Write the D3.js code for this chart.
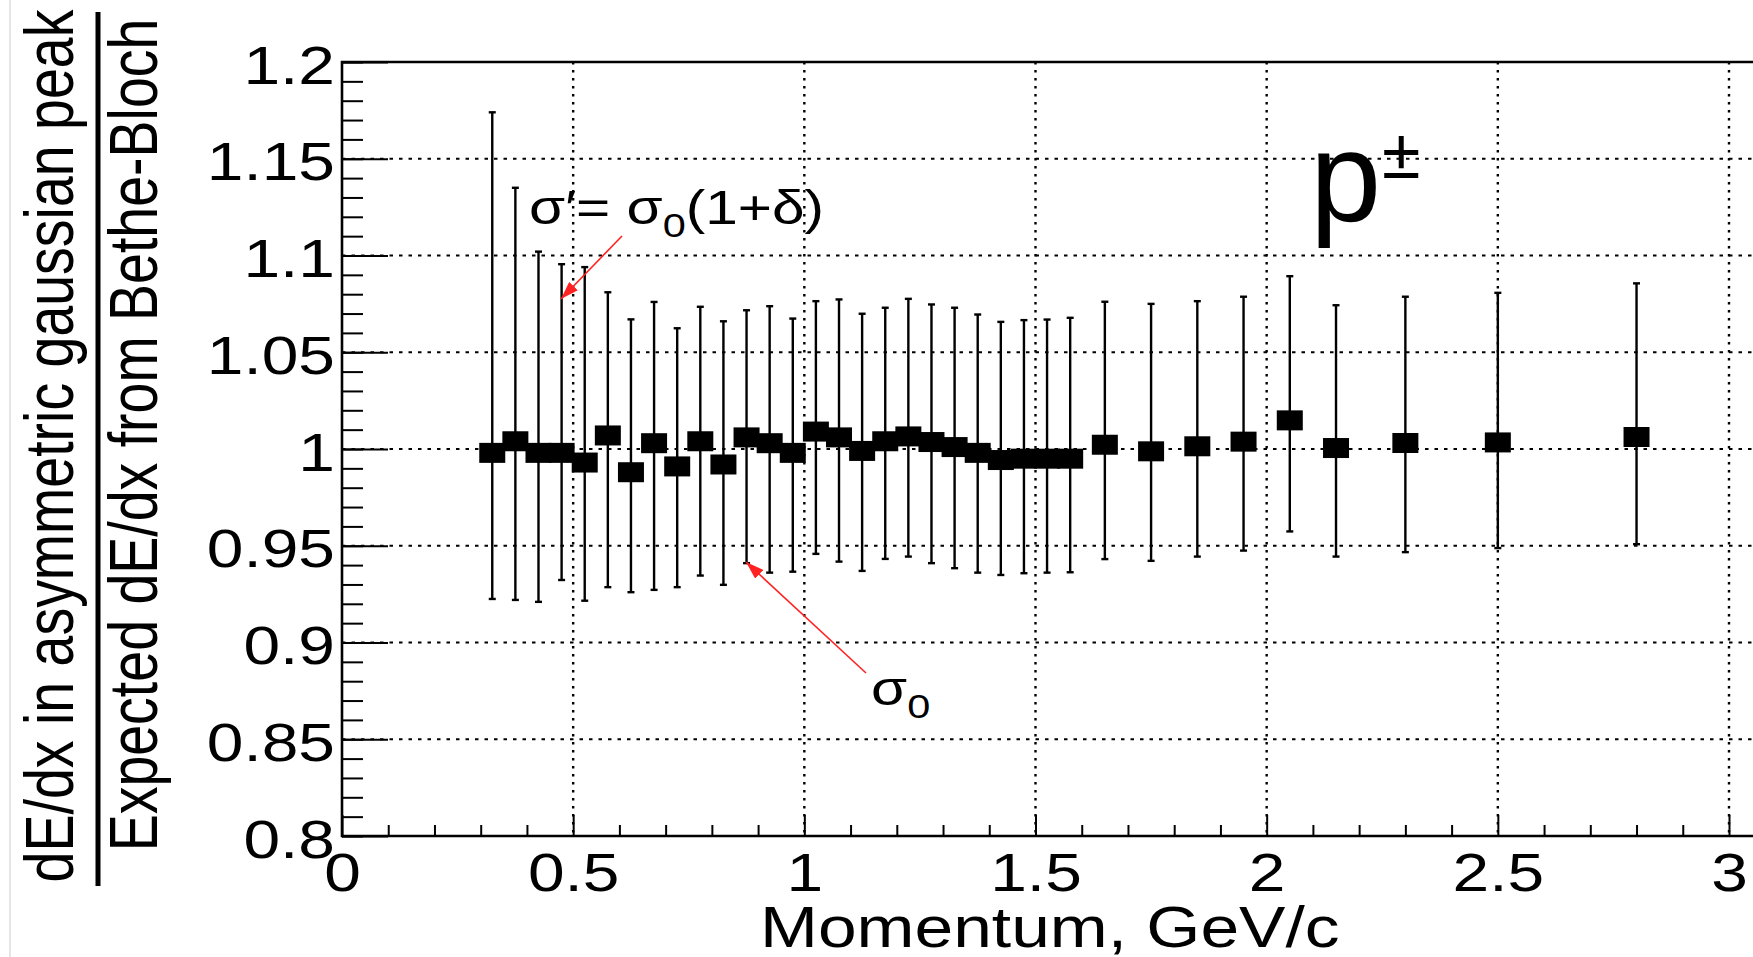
<!DOCTYPE html>
<html>
<head>
<meta charset="utf-8">
<script src="https://cdn.jsdelivr.net/npm/d3@7"></script>
<style>
body { margin: 0; background: #fff; }
text { font-family: "Liberation Sans", Arial, Helvetica, sans-serif; fill: #000; }
</style>
</head>
<body>
<div id="chart"></div>
<script>
// momentum bins (GeV/c), peak ratio, upper / lower ends of the bars
var momentum = [0.325, 0.375, 0.425, 0.475, 0.525, 0.575, 0.625, 0.675, 0.725, 0.775,
                0.825, 0.875, 0.925, 0.975, 1.025, 1.075, 1.125, 1.175, 1.225, 1.275,
                1.325, 1.375, 1.425, 1.475, 1.525, 1.575, 1.65, 1.75, 1.85, 1.95,
                2.05, 2.15, 2.3, 2.5, 2.8];
var ratio = [0.998, 1.004, 0.998, 0.998, 0.993, 1.007, 0.988, 1.003, 0.991, 1.004,
             0.992, 1.006, 1.003, 0.998, 1.009, 1.006, 0.999, 1.004, 1.0065, 1.0036,
             1.001, 0.998, 0.9943, 0.995, 0.995, 0.995, 1.0022, 0.9988, 1.0014, 1.0038,
             1.0148, 1.0005, 1.0031, 1.0034, 1.0062];
var upper = [1.174, 1.135, 1.102, 1.0955, 1.094, 1.081, 1.067, 1.076, 1.0624, 1.0735,
             1.066, 1.0717, 1.0738, 1.0674, 1.0764, 1.0773, 1.0699, 1.073, 1.0776, 1.0747,
             1.073, 1.0695, 1.0657, 1.0666, 1.0669, 1.0678, 1.0761, 1.075, 1.0764, 1.0787,
             1.0893, 1.0743, 1.0787, 1.0807, 1.0856];
var lower = [0.9225, 0.922, 0.921, 0.9323, 0.9216, 0.9286, 0.926, 0.9272, 0.9286, 0.9346,
             0.9298, 0.941, 0.9361, 0.9366, 0.9458, 0.9418, 0.937, 0.9432, 0.9444, 0.941,
             0.9384, 0.9361, 0.9349, 0.9358, 0.9361, 0.9363, 0.9431, 0.9422, 0.9444, 0.9475,
             0.9574, 0.9444, 0.9467, 0.9488, 0.9508];

var xTicks = [0, 0.5, 1, 1.5, 2, 2.5, 3];
var xMinor = [0.1,0.2,0.3,0.4,0.6,0.7,0.8,0.9,1.1,1.2,1.3,1.4,1.6,1.7,1.8,1.9,
              2.1,2.2,2.3,2.4,2.6,2.7,2.8,2.9];
var yTicks = [0.8, 0.85, 0.9, 0.95, 1, 1.05, 1.1, 1.15, 1.2];
var yMinor = d3.range(80, 121).map(function(d){ return d / 100 });

var W = 1753, H = 957, sx = 1.22;

var x = d3.scaleLinear().domain([0, 3]).range([342, 1729]);
var y = d3.scaleLinear().domain([0.8, 1.2]).range([836, 62]);

var svg = d3.select("#chart").append("svg")
  .attr("width", W)
  .attr("height", H)

svg.append("rect").attr("width", W).attr("height", H).attr("fill", "#fff")
svg.append("line").attr("x1", 10).attr("x2", 10).attr("y1", 0).attr("y2", H)
  .attr("stroke", "#ddd").attr("stroke-width", 1.5)

// grid
svg.append("g").selectAll("line")
  .data(yTicks.slice(1, -1))
  .enter().append("line")
    .attr("x1", x(0)).attr("x2", W)
    .attr("y1", function(d){ return y(d) }).attr("y2", function(d){ return y(d) })
    .attr("stroke", "#000").attr("stroke-width", 2.2)
    .attr("stroke-dasharray", "3.5 6")
svg.append("g").selectAll("line")
  .data(xTicks.slice(1))
  .enter().append("line")
    .attr("x1", function(d){ return x(d) }).attr("x2", function(d){ return x(d) })
    .attr("y1", y(1.2)).attr("y2", y(0.8))
    .attr("stroke", "#000").attr("stroke-width", 2.4)
    .attr("stroke-dasharray", "2.5 5.5")

// axes
var gy = svg.append("g").attr("transform", "translate(" + x(0) + ",0)")
  .call(d3.axisLeft(y).tickValues(yTicks).tickSizeInner(-46).tickSizeOuter(0)
    .tickPadding(0).tickFormat(function(d){ return String(d) }))
svg.append("g").attr("transform", "translate(" + x(0) + ",0)")
  .call(d3.axisLeft(y).tickValues(yMinor).tickSizeInner(-21).tickSizeOuter(0).tickFormat(""))
var gx = svg.append("g").attr("transform", "translate(0," + y(0.8) + ")")
  .call(d3.axisBottom(x).tickValues(xTicks).tickSizeInner(-21).tickSizeOuter(0)
    .tickPadding(0).tickFormat(function(d){ return String(d) }))
svg.append("g").attr("transform", "translate(0," + y(0.8) + ")")
  .call(d3.axisBottom(x).tickValues(xMinor).tickSizeInner(-11).tickSizeOuter(0).tickFormat(""))

svg.selectAll(".domain").remove()
svg.selectAll(".tick line").attr("stroke", "#000").attr("stroke-width", 2)

gy.selectAll(".tick text")
  .attr("x", null).attr("dy", null)
  .attr("transform", "translate(-7,21) scale(" + sx + ",1)")
  .style("font-size", "54px")
gx.selectAll(".tick text")
  .attr("y", null).attr("dy", null)
  .attr("transform", "translate(0,54.5) scale(" + sx + ",1)")
  .style("font-size", "54px")

// frame
svg.append("path")
  .attr("d", "M" + W + "," + y(1.2) + "H" + x(0) + "V" + y(0.8) + "H" + W)
  .attr("fill", "none").attr("stroke", "#000").attr("stroke-width", 2.6)

// error bars
var pts = momentum.map(function(m, i){ return {m: m, v: ratio[i], hi: upper[i], lo: lower[i]} });
var bars = svg.append("g").attr("stroke", "#000").attr("stroke-width", 2.4);
bars.selectAll(".bar").data(pts).enter().append("line").attr("class", "bar")
  .attr("x1", function(d){ return x(d.m) }).attr("x2", function(d){ return x(d.m) })
  .attr("y1", function(d){ return y(d.hi) }).attr("y2", function(d){ return y(d.lo) })
bars.selectAll(".capHi").data(pts).enter().append("line").attr("class", "capHi")
  .attr("x1", function(d){ return x(d.m) - 3.5 }).attr("x2", function(d){ return x(d.m) + 3.5 })
  .attr("y1", function(d){ return y(d.hi) }).attr("y2", function(d){ return y(d.hi) })
bars.selectAll(".capLo").data(pts).enter().append("line").attr("class", "capLo")
  .attr("x1", function(d){ return x(d.m) - 3.5 }).attr("x2", function(d){ return x(d.m) + 3.5 })
  .attr("y1", function(d){ return y(d.lo) }).attr("y2", function(d){ return y(d.lo) })

svg.append("g").selectAll("rect").data(pts).enter().append("rect")
  .attr("x", function(d){ return x(d.m) - 13 })
  .attr("y", function(d){ return y(d.v) - 10 })
  .attr("width", 26).attr("height", 20)
  .attr("fill", "#000")

// axis titles
svg.append("text")
  .attr("transform", "translate(760,947) scale(" + sx + ",1)")
  .style("font-size", "57px")
  .text("Momentum, GeV/c")
svg.append("text")
  .attr("transform", "translate(73,446) scale(" + sx + ",1) rotate(-90)")
  .attr("text-anchor", "middle").style("font-size", "55.5px")
  .text("dE/dx in asymmetric gaussian peak")
svg.append("line").attr("x1", 98).attr("x2", 98).attr("y1", 12).attr("y2", 886)
  .attr("stroke", "#000").attr("stroke-width", 5)
svg.append("text")
  .attr("transform", "translate(157,435) scale(" + sx + ",1) rotate(-90)")
  .attr("text-anchor", "middle").style("font-size", "55.5px")
  .text("Expected dE/dx from Bethe-Bloch")

// annotations
svg.append("defs").append("marker")
  .attr("id", "head").attr("markerUnits", "userSpaceOnUse")
  .attr("viewBox", "0 0 18 12").attr("markerWidth", 18).attr("markerHeight", 12)
  .attr("refX", 18).attr("refY", 6).attr("orient", "auto")
  .append("path").attr("d", "M0,0L18,6L0,12Z").attr("fill", "#f22")

var t1 = svg.append("text")
  .attr("transform", "translate(529,224) scale(" + sx + ",1)")
  .style("font-size", "48px")
t1.append("tspan").text("σ′= σ")
t1.append("tspan").attr("dy", 13).style("font-size", "34px").text("0")
t1.append("tspan").attr("dy", -13).text("(1+δ)")

var t2 = svg.append("text")
  .attr("transform", "translate(871,705) scale(" + sx + ",1)")
  .style("font-size", "48px")
t2.append("tspan").text("σ")
t2.append("tspan").attr("dy", 13).style("font-size", "34px").text("0")

svg.append("line").attr("x1", 622).attr("y1", 236).attr("x2", 561).attr("y2", 299)
  .attr("stroke", "#f22").attr("stroke-width", 1.6).attr("marker-end", "url(#head)")
svg.append("line").attr("x1", 866).attr("y1", 673).attr("x2", 746).attr("y2", 562)
  .attr("stroke", "#f22").attr("stroke-width", 1.6).attr("marker-end", "url(#head)")

svg.append("text").attr("x", 1310).attr("y", 221).style("font-size", "128px").text("p")
svg.append("text").attr("x", 1382).attr("y", 178).style("font-size", "70px").text("±")
</script>
</body>
</html>
